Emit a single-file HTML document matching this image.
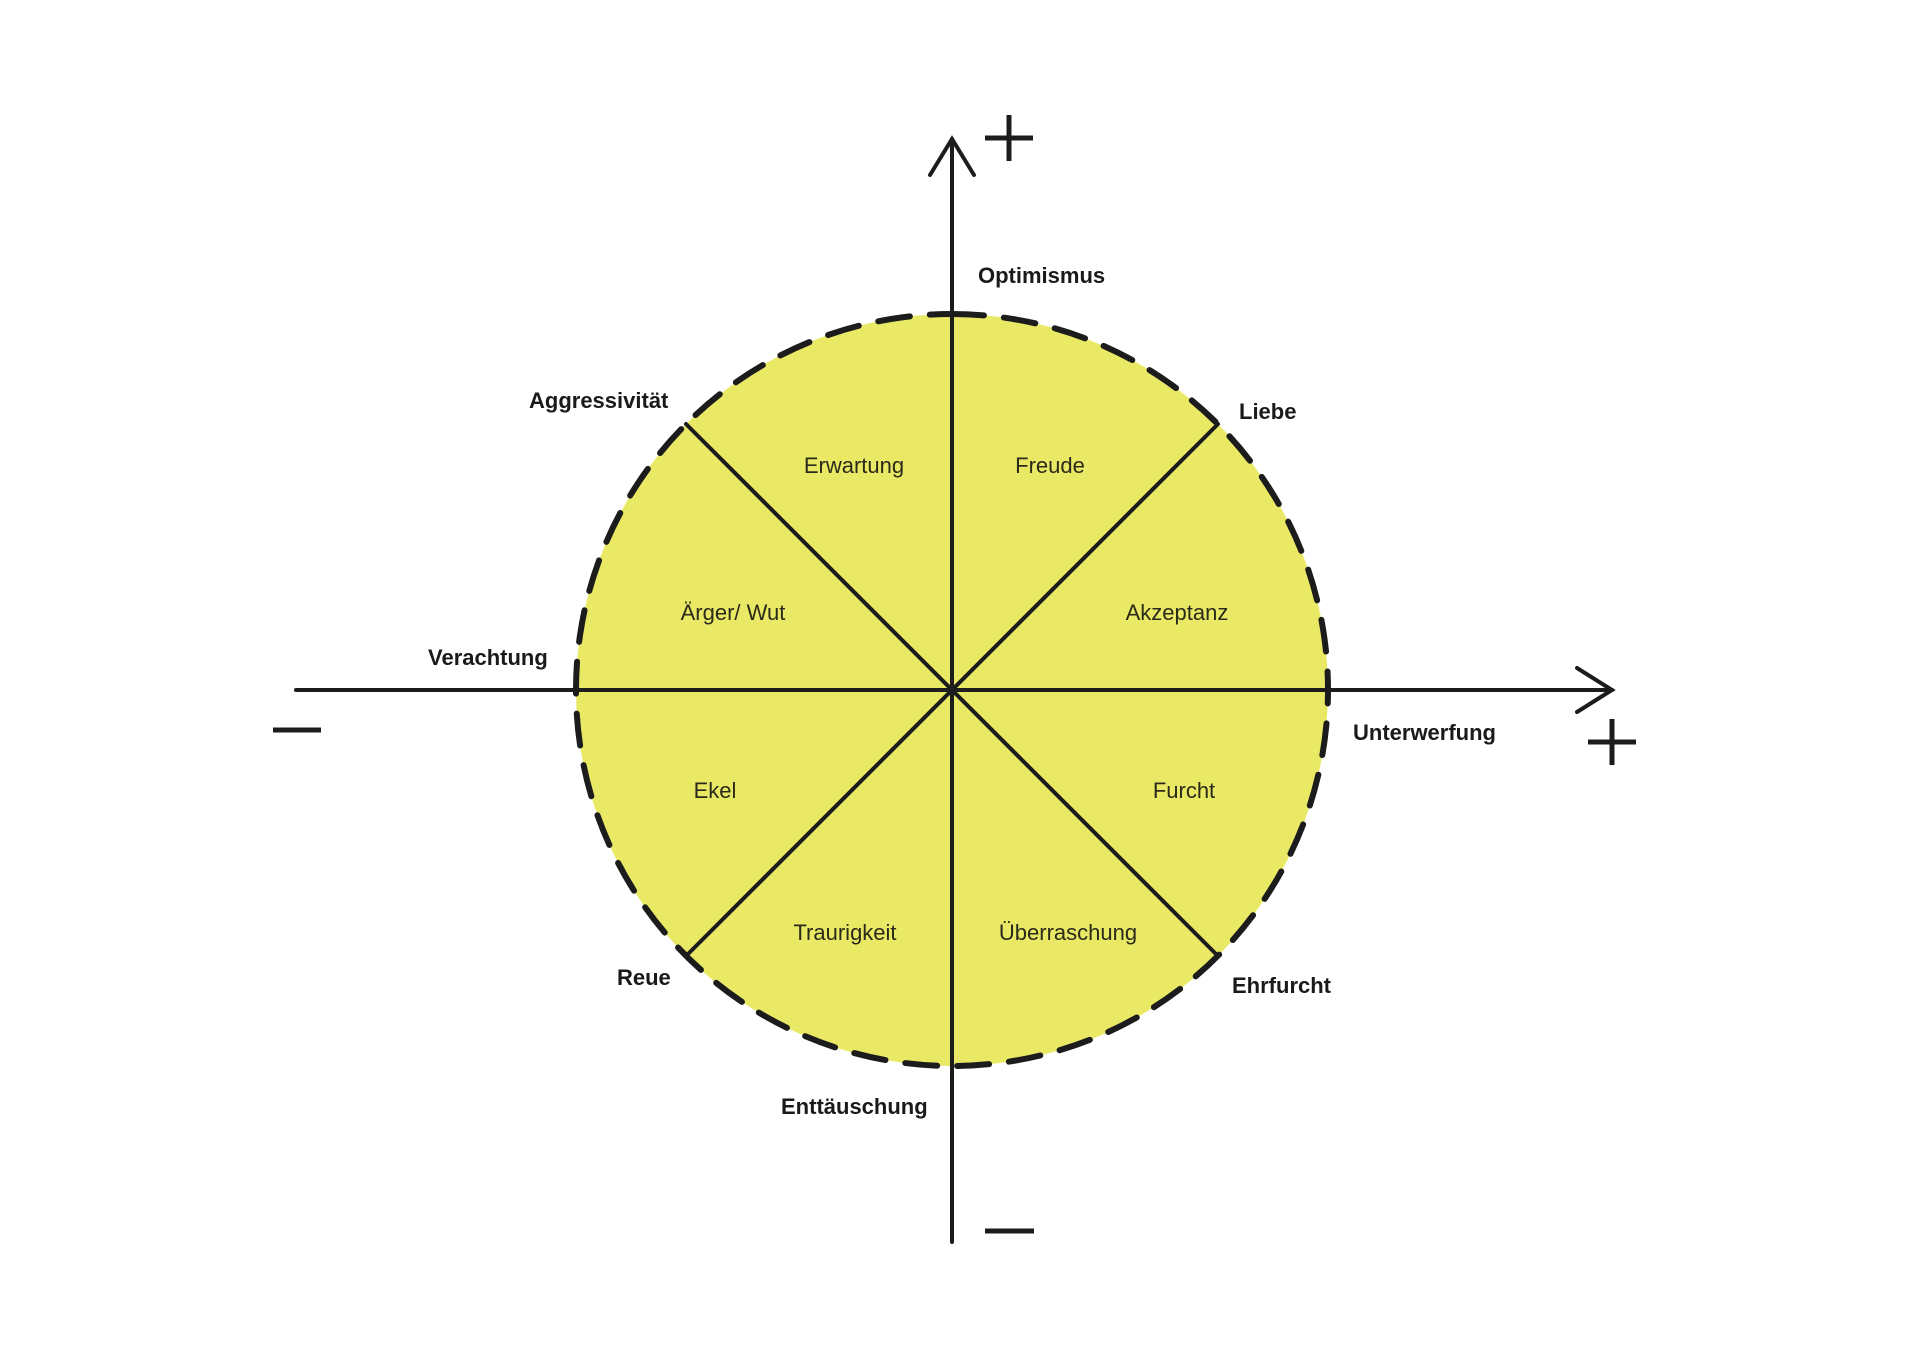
<!DOCTYPE html>
<html><head><meta charset="utf-8"><style>
html,body{margin:0;padding:0;background:#fff;}
svg{display:block;}
.o{font-family:"Liberation Sans",sans-serif;font-weight:bold;font-size:22px;fill:#1a1a1a;}
.i{font-family:"Liberation Sans",sans-serif;font-size:22px;fill:#2a2a1a;}
</style></head><body>
<svg width="1920" height="1358" viewBox="0 0 1920 1358" xmlns="http://www.w3.org/2000/svg">
<rect width="1920" height="1358" fill="#fff"/>
<circle cx="952" cy="690" r="376" fill="#eae966"/>
<g stroke="#1c1c1c" stroke-width="4" fill="none" stroke-linecap="round">
<line x1="952" y1="139" x2="952" y2="1242"/>
<line x1="296" y1="690" x2="1612" y2="690"/>
<polyline points="930,175 952,139 974,175"/>
<polyline points="1577,668 1612,690 1577,712"/>
<line x1="686" y1="424" x2="1218" y2="956"/>
<line x1="1218" y1="424" x2="686" y2="956"/>
</g>
<g stroke="#1c1c1c" stroke-width="5" fill="none">
<line x1="985" y1="138" x2="1033" y2="138"/>
<line x1="1009" y1="115" x2="1009" y2="161"/>
<line x1="1588" y1="742" x2="1636" y2="742"/>
<line x1="1612" y1="719" x2="1612" y2="765"/>
<line x1="273" y1="730" x2="321" y2="730"/>
<line x1="985" y1="1231" x2="1034" y2="1231"/>
</g>
<circle cx="952" cy="690" r="376" fill="none" stroke="#1c1c1c" stroke-width="6" stroke-dasharray="32 20" stroke-linecap="round" transform="rotate(-90 952 690)"/>
<g class="o">
<text x="978" y="283">Optimismus</text>
<text x="529" y="408">Aggressivität</text>
<text x="1239" y="419">Liebe</text>
<text x="428" y="665">Verachtung</text>
<text x="1353" y="740">Unterwerfung</text>
<text x="617" y="985">Reue</text>
<text x="1232" y="993">Ehrfurcht</text>
<text x="781" y="1114">Enttäuschung</text>
</g>
<g class="i" text-anchor="middle">
<text x="854" y="473">Erwartung</text>
<text x="1050" y="473">Freude</text>
<text x="733" y="620">Ärger/ Wut</text>
<text x="1177" y="620">Akzeptanz</text>
<text x="715" y="798">Ekel</text>
<text x="1184" y="798">Furcht</text>
<text x="845" y="940">Traurigkeit</text>
<text x="1068" y="940">Überraschung</text>
</g>
</svg>
</body></html>
